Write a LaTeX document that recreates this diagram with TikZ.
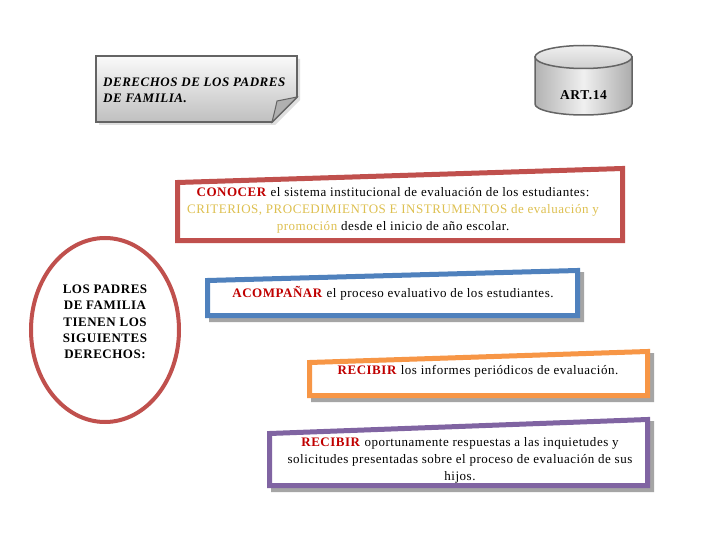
\documentclass[tikz,border=0pt]{standalone}
\usepackage{fontspec}
\setmainfont[LetterSpace=4]{Liberation Serif}
\usetikzlibrary{shapes.geometric}
\definecolor{boxred}{HTML}{C0504D}
\definecolor{boxblue}{HTML}{4F81BD}
\definecolor{boxorange}{HTML}{F79646}
\definecolor{boxpurple}{HTML}{8064A2}
\definecolor{kwred}{HTML}{C00000}
\definecolor{kwgold}{RGB}{222,192,80}
\definecolor{shadowgray}{RGB}{165,165,165}
\definecolor{edgegray}{RGB}{100,100,100}
\newcommand\slantbox[6]{%
  \path[line width=5pt, draw=#6, fill=white, line join=miter]
    (#1,#3) -- (#2,#4) -- (#2,#5) -- (#1,#5) -- cycle;}
\newcommand\slantshadow[5]{%
  \begin{scope}[shift={(4,4)}]
  \fill[shadowgray] (#1-2.5,#3-2.5) -- (#2+2.5,#4-2.5) -- (#2+2.5,#5+2.5) -- (#1-2.5,#5+2.5) -- cycle;
  \end{scope}}
\begin{document}
\begin{tikzpicture}[x=1pt,y=-1pt,
  txt/.style={font=\fontsize{13}{17}\selectfont, align=center, inner sep=0pt}]
\useasboundingbox[fill=white] (0,0) rectangle (720,540);

% note: DERECHOS DE LOS PADRES
\fill[gray!25] (99,59) -- (300,59) -- (300,100) -- (275,125) -- (99,125) -- cycle;
\path[draw=edgegray, line width=1.8pt, top color=gray!4, bottom color=gray!50]
  (96,56) -- (297,56) -- (297,97) -- (272,122) -- (96,122) -- cycle;
\path[draw=edgegray, line width=1pt, fill=gray!62]
  (297,97) .. controls (287,99) .. (277,101) .. controls (275,110) .. (272,122) -- cycle;
\node[font=\fontsize{13}{16}\selectfont\bfseries\itshape, align=left, anchor=west, inner sep=0pt]
  (title) at (103,90) {DERECHOS DE LOS PADRES\\DE FAMILIA.};

% cylinder ART.14
\path[draw=edgegray, line width=1.5pt, left color=gray!60, right color=gray!65, middle color=gray!12]
  (535,57) -- (535,104) arc[start angle=180, end angle=0, x radius=48.5, y radius=11] -- (632,57) -- cycle;
\path[draw=edgegray, line width=1.5pt, top color=gray!12, bottom color=gray!38]
  (583.5,57) ellipse [x radius=48.5, y radius=11.5];
\node[font=\fontsize{13.5}{15}\selectfont\bfseries, inner sep=0pt] (art) at (583.5,95) {ART.14};

% ellipse
\node[draw=boxred, line width=4pt, ellipse, minimum width=148pt, minimum height=184pt, inner sep=0pt]
  (oval) at (105,330) {};
\node[font=\fontsize{13}{16.3}\selectfont\bfseries, align=center, inner sep=0pt]
  (ovaltext) at (105,322) {LOS PADRES\\DE FAMILIA\\TIENEN LOS\\SIGUIENTES\\DERECHOS:};

% CONOCER
\slantbox{177.5}{622.5}{182.5}{168.5}{240.5}{boxred}
\node[txt] (conocer) at (393,210)
  {{\color{kwred}\textbf{CONOCER}} el sistema institucional de evaluación de los estudiantes:\\
   {\color{kwgold}CRITERIOS, PROCEDIMIENTOS E INSTRUMENTOS de evaluación y}\\
   {\color{kwgold}promoción} desde el inicio de año escolar.};

% ACOMPANAR
\slantshadow{207.5}{577.5}{280.5}{270.5}{315.5}
\slantbox{207.5}{577.5}{280.5}{270.5}{315.5}{boxblue}
\node[txt] (acomp) at (393,293)
  {{\color{kwred}\textbf{ACOMPAÑAR}} el proceso evaluativo de los estudiantes.};

% RECIBIR 1
\slantshadow{309.5}{647.5}{362.5}{351.5}{395.5}
\slantbox{309.5}{647.5}{362.5}{351.5}{395.5}{boxorange}
\node[txt] (recibir1) at (478,371)
  {{\color{kwred}\textbf{RECIBIR}} los informes periódicos de evaluación.};

% RECIBIR 2
\slantshadow{269.5}{647.5}{433.5}{419.5}{485.5}
\slantbox{269.5}{647.5}{433.5}{419.5}{485.5}{boxpurple}
\node[txt] (recibir2) at (460,460)
  {{\color{kwred}\textbf{RECIBIR}} oportunamente respuestas a las inquietudes y\\
   solicitudes presentadas sobre el proceso de evaluación de sus\\
   hijos.};
\end{tikzpicture}
\end{document}
